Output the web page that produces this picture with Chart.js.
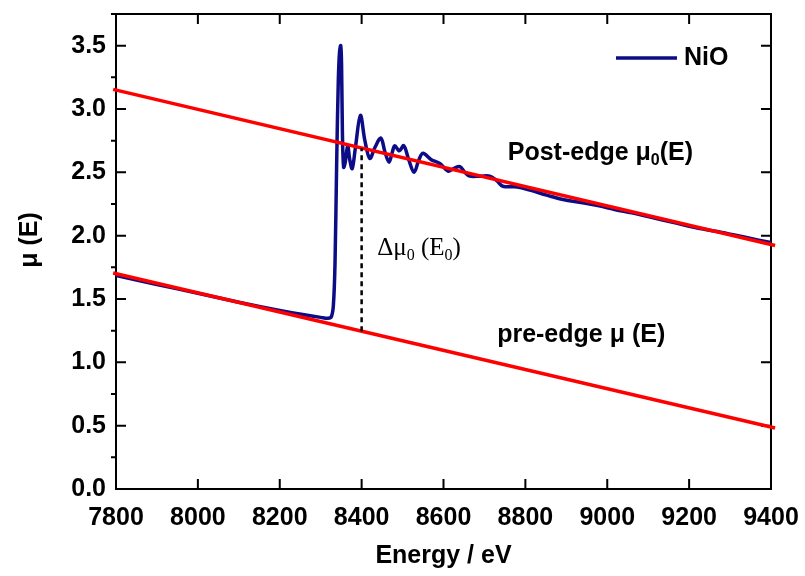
<!DOCTYPE html>
<html>
<head>
<meta charset="utf-8">
<script src="https://cdn.jsdelivr.net/npm/chart.js@4.4.0/dist/chart.umd.min.js"></script>
<style>
  html, body { margin: 0; padding: 0; background: #fff; }
  #wrap { width: 805px; height: 576px; }
</style>
</head>
<body>
<div id="wrap"><canvas id="grafico" width="805" height="576"></canvas></div>
<script>
// NiO K-edge absorption spectrum
const energy = [7800, 7900, 8000, 8100, 8200, 8260, 8300, 8318, 8326, 8331, 8335, 8339, 8343, 8346, 8349,
  8351, 8353, 8356, 8360, 8366, 8371, 8377, 8385, 8397, 8408, 8420, 8433, 8447, 8457, 8467, 8475, 8481,
  8492, 8503, 8515, 8528, 8540, 8550, 8570, 8591, 8611, 8625, 8640, 8652, 8664, 8690, 8713, 8730, 8745,
  8780, 8811, 8852, 8892, 8940, 8980, 9020, 9060, 9100, 9160, 9220, 9280, 9340, 9400];
const muNiO = [1.685, 1.615, 1.545, 1.475, 1.410, 1.375, 1.355, 1.348, 1.36, 1.45, 1.78, 2.57, 3.22, 3.45, 3.50,
  3.35, 2.83, 2.54, 2.58, 2.71, 2.60, 2.53, 2.70, 2.95, 2.75, 2.61, 2.70, 2.77, 2.66, 2.58, 2.66, 2.71,
  2.67, 2.71, 2.60, 2.50, 2.60, 2.65, 2.60, 2.57, 2.51, 2.53, 2.545, 2.50, 2.47, 2.47, 2.47, 2.435, 2.39,
  2.385, 2.36, 2.32, 2.285, 2.26, 2.235, 2.205, 2.18, 2.15, 2.105, 2.06, 2.025, 1.985, 1.945];

// fitted background lines
const postEdgeE = [7793, 9410];
const postEdgeMu = [3.155, 1.922];
const preEdgeE = [7793, 9410];
const preEdgeMu = [1.705, 0.482];

// edge step marker at E0
const stepE = [8400, 8400];
const stepMu = [1.246, 2.69];

const xTicks = [7800, 8000, 8200, 8400, 8600, 8800, 9000, 9200, 9400];
const yTicks = [0.0, 0.5, 1.0, 1.5, 2.0, 2.5, 3.0, 3.5];
const yMinorTicks = [0.25, 0.75, 1.25, 1.75, 2.25, 2.75, 3.25, 3.75];

const pts = (xs, ys) => xs.map((x, i) => ({ x: x, y: ys[i] }));
const boldFont = 'bold 25px "Liberation Sans", Arial, sans-serif';

// text with a lowered "0" subscript, parts = [[text, isSub], ...]
function drawParts(ctx, parts, x, y, font, subFont) {
  let cx = x;
  parts.forEach(([t, sub]) => {
    ctx.font = sub ? subFont : font;
    ctx.fillText(t, cx, sub ? y + 7 : y);
    cx += ctx.measureText(t).width;
  });
}

const framePlugin = {
  id: 'frame',
  beforeDatasetsDraw(chart) {
    const { ctx, chartArea: a, scales: { x, y } } = chart;
    ctx.save();
    ctx.strokeStyle = '#000';
    ctx.lineWidth = 2;
    ctx.strokeRect(a.left, a.top, a.right - a.left, a.bottom - a.top);
    ctx.beginPath();
    xTicks.forEach(v => {
      const px = x.getPixelForValue(v);
      ctx.moveTo(px, a.bottom); ctx.lineTo(px, a.bottom - 10);
      ctx.moveTo(px, a.top); ctx.lineTo(px, a.top + 10);
    });
    yTicks.forEach(v => {
      const py = y.getPixelForValue(v);
      ctx.moveTo(a.left, py); ctx.lineTo(a.left + 10, py);
      ctx.moveTo(a.right, py); ctx.lineTo(a.right - 10, py);
    });
    yMinorTicks.forEach(v => {
      const py = y.getPixelForValue(v);
      ctx.moveTo(a.left, py); ctx.lineTo(a.left - 5, py);
    });
    ctx.stroke();
    ctx.restore();
  },
  afterDatasetsDraw(chart) {
    const { ctx, scales: { x, y } } = chart;
    ctx.save();
    ctx.fillStyle = '#000';
    ctx.textBaseline = 'middle';

    // y axis title
    ctx.save();
    ctx.translate(30, 240);
    ctx.rotate(-Math.PI / 2);
    ctx.textAlign = 'center';
    ctx.font = boldFont;
    ctx.fillText('\u03bc (E)', 0, 0);
    ctx.restore();

    ctx.textAlign = 'left';
    const sub = 'bold 16px "Liberation Sans", Arial, sans-serif';
    drawParts(ctx, [['Post-edge \u03bc', false], ['0', true], ['(E)', false]],
      x.getPixelForValue(8757), y.getPixelForValue(2.65), boldFont, sub);
    drawParts(ctx, [['pre-edge \u03bc (E)', false]],
      x.getPixelForValue(8731), y.getPixelForValue(1.215), boldFont, sub);

    const serif = '25px "Liberation Serif", "Times New Roman", serif';
    const serifSub = '16px "Liberation Serif", "Times New Roman", serif';
    drawParts(ctx, [['\u0394\u03bc', false], ['0', true], [' (E', false], ['0', true], [')', false]],
      x.getPixelForValue(8438), y.getPixelForValue(1.9), serif, serifSub);

    // legend
    const ds = chart.data.datasets[0];
    ctx.strokeStyle = ds.borderColor;
    ctx.lineWidth = 3.5;
    ctx.beginPath();
    ctx.moveTo(616, 58); ctx.lineTo(677, 58);
    ctx.stroke();
    ctx.font = boldFont;
    ctx.fillText(ds.label, 684, 58);
    ctx.restore();
  }
};

const ctx = document.getElementById('grafico').getContext('2d');

new Chart(ctx, {
  type: 'line',
  data: {
    datasets: [
      {
        label: 'NiO',
        data: pts(energy, muNiO),
        borderColor: '#0c0c86',
        borderWidth: 3.5,
        pointRadius: 0,
        tension: 0.35,
        order: 2
      },
      {
        label: 'post-edge',
        data: pts(postEdgeE, postEdgeMu),
        borderColor: '#ff0000',
        borderWidth: 3.5,
        pointRadius: 0,
        clip: false,
        order: 1
      },
      {
        label: 'pre-edge',
        data: pts(preEdgeE, preEdgeMu),
        borderColor: '#ff0000',
        borderWidth: 3.5,
        pointRadius: 0,
        clip: false,
        order: 1
      },
      {
        label: 'step',
        data: pts(stepE, stepMu),
        borderColor: '#000',
        borderWidth: 2.5,
        borderDash: [5, 4],
        pointRadius: 0,
        order: 0
      }
    ]
  },
  options: {
    responsive: false,
    animation: false,
    layout: { padding: { top: 14, right: 34, left: 0, bottom: 0 } },
    plugins: { legend: { display: false }, tooltip: { enabled: false } },
    scales: {
      x: {
        type: 'linear',
        min: 7800,
        max: 9400,
        grid: { display: false, drawTicks: false },
        border: { display: false },
        ticks: {
          stepSize: 200,
          padding: 14,
          color: '#000',
          maxRotation: 0,
          font: { family: '"Liberation Sans", Arial, sans-serif', size: 25, weight: 'bold' },
          callback: v => String(v)
        },
        title: {
          display: true,
          text: 'Energy / eV',
          color: '#000',
          padding: { top: 0, bottom: 5 },
          font: { family: '"Liberation Sans", Arial, sans-serif', size: 25, weight: 'bold' }
        },
        afterFit: s => { s.height = 87; s.paddingLeft = 0; s.paddingRight = 0; }
      },
      y: {
        min: 0,
        max: 3.75,
        grid: { display: false, drawTicks: false },
        border: { display: false },
        ticks: {
          stepSize: 0.5,
          includeBounds: false,
          padding: 10,
          color: '#000',
          font: { family: '"Liberation Sans", Arial, sans-serif', size: 25, weight: 'bold' },
          callback: v => v.toFixed(1)
        },
        afterFit: s => { s.width = 116; s.paddingTop = 0; s.paddingBottom = 0; }
      }
    }
  },
  plugins: [framePlugin]
});
</script>
</body>
</html>
